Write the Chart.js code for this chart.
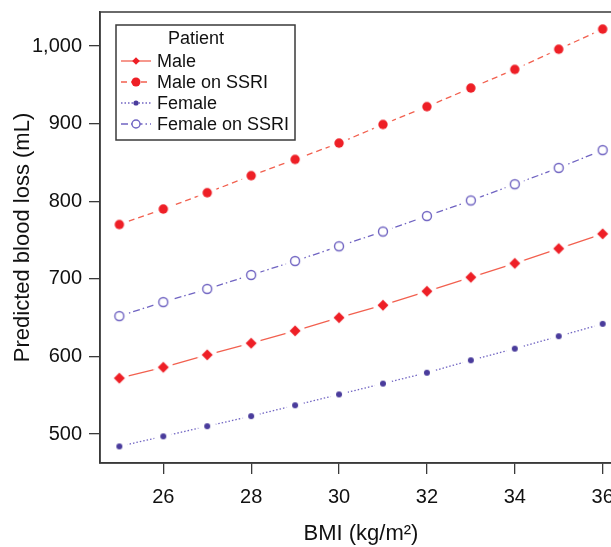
<!DOCTYPE html>
<html>
<head>
<meta charset="utf-8">
<script src="https://cdn.jsdelivr.net/npm/chart.js@4/dist/chart.umd.min.js"></script>
<style>
  html, body { margin: 0; padding: 0; background: #fff; overflow: hidden; }
  #wrap { width: 630px; height: 547px; }
</style>
</head>
<body>
<div id="wrap"><canvas id="bloodLossChart" width="630" height="547"></canvas></div>
<script>
const bmi = [25, 26, 27, 28, 29, 30, 31, 32, 33, 34, 35, 36];
const maleLoss = [572, 586, 602, 617, 633, 650, 666, 684, 702, 720, 739, 758];
const maleSsriLoss = [770, 790, 811, 833, 854, 875, 899, 922, 946, 970, 996, 1022];
const femaleLoss = [484, 497, 510, 523, 537, 551, 565, 579, 595, 610, 626, 642];
const femaleSsriLoss = [652, 670, 687, 705, 723, 742, 761, 781, 801, 822, 843, 866];
const xTicks = [26, 28, 30, 32, 34, 36];
const yTicks = [500, 600, 700, 800, 900, 1000];

const FONT = "'Liberation Sans', Arial, sans-serif";
const AXIS = '#3a3a3a';
const RED_LINE = '#f2604f';
const RED_PT = '#ee1f26';
const BLUE_LINE = '#7064c2';
const BLUE_PT = '#4a3c9c';

// marker shapes, drawn at (cx, cy)
function diamond(g, cx, cy, r, fill) {
    g.fillStyle = fill;
    g.beginPath();
    g.moveTo(cx, cy - r); g.lineTo(cx + r, cy); g.lineTo(cx, cy + r); g.lineTo(cx - r, cy);
    g.closePath();
    g.fill();
}
function dot(g, cx, cy, r, fill) {
    g.fillStyle = fill;
    g.beginPath();
    g.arc(cx, cy, r, 0, Math.PI * 2);
    g.fill();
}
function ring(g, cx, cy, r, stroke) {
    g.fillStyle = '#fff';
    g.strokeStyle = stroke;
    g.lineWidth = 1.4;
    g.beginPath();
    g.arc(cx, cy, r, 0, Math.PI * 2);
    g.fill();
    g.stroke();
}

// point image with a white disk round the marker, so the line breaks
// at every point as in R's type="b"
function markerImage(gap, draw) {
    const c = document.createElement('canvas');
    c.width = c.height = gap * 2;
    const g = c.getContext('2d');
    g.fillStyle = '#fff';
    g.beginPath();
    g.arc(gap, gap, gap, 0, Math.PI * 2);
    g.fill();
    draw(g, gap, gap);
    return c;
}

const maleMarker = markerImage(10, (g, x, y) => diamond(g, x, y, 5.5, RED_PT));
const maleSsriMarker = markerImage(10, (g, x, y) => dot(g, x, y, 4.7, RED_PT));
const femaleMarker = markerImage(9, (g, x, y) => dot(g, x, y, 3, BLUE_PT));
const femaleSsriMarker = markerImage(10, (g, x, y) => ring(g, x, y, 4.5, BLUE_LINE));

const legendMarkers = [
    (g, x, y) => diamond(g, x, y, 3.8, RED_PT),
    (g, x, y) => dot(g, x, y, 4.5, RED_PT),
    (g, x, y) => dot(g, x, y, 2.6, BLUE_PT),
    (g, x, y) => ring(g, x, y, 4, BLUE_LINE)
];

const toPoints = ys => bmi.map((x, i) => ({ x: x, y: ys[i] }));

// box round the plot and the legend inside it
const frameAndLegend = {
    id: 'frameAndLegend',
    afterDraw(chart) {
        const ctx = chart.ctx;
        const a = chart.chartArea;
        ctx.save();
        ctx.strokeStyle = AXIS;
        ctx.lineWidth = 1.5;
        ctx.strokeRect(a.left, a.top, a.right - a.left, a.bottom - a.top);

        ctx.strokeRect(116, 25, 179, 115);
        ctx.fillStyle = '#111';
        ctx.font = '18px ' + FONT;
        ctx.textBaseline = 'middle';
        ctx.textAlign = 'center';
        ctx.fillText('Patient', 196, 39);
        ctx.textAlign = 'left';
        chart.data.datasets.forEach((ds, i) => {
            const y = 61 + i * 21;
            ctx.strokeStyle = ds.borderColor;
            ctx.lineWidth = ds.borderWidth;
            ctx.setLineDash(ds.borderDash || []);
            ctx.beginPath();
            ctx.moveTo(121, y);
            ctx.lineTo(151, y);
            ctx.stroke();
            ctx.setLineDash([]);
            legendMarkers[i](ctx, 136, y);
            ctx.fillStyle = '#111';
            ctx.fillText(ds.label, 157, y + 1);
        });
        ctx.restore();
    }
};

const ctx = document.getElementById('bloodLossChart').getContext('2d');
new Chart(ctx, {
    type: 'line',
    data: {
        datasets: [{
            label: 'Male',
            data: toPoints(maleLoss),
            borderColor: RED_LINE,
            borderWidth: 1.3,
            borderDash: [],
            pointStyle: maleMarker,
            pointRadius: 5
        }, {
            label: 'Male on SSRI',
            data: toPoints(maleSsriLoss),
            borderColor: RED_LINE,
            borderWidth: 1.3,
            borderDash: [6, 4],
            pointStyle: maleSsriMarker,
            pointRadius: 5
        }, {
            label: 'Female',
            data: toPoints(femaleLoss),
            borderColor: BLUE_LINE,
            borderWidth: 1.3,
            borderDash: [1.5, 2],
            pointStyle: femaleMarker,
            pointRadius: 3
        }, {
            label: 'Female on SSRI',
            data: toPoints(femaleSsriLoss),
            borderColor: BLUE_LINE,
            borderWidth: 1.3,
            borderDash: [7, 3, 1.5, 3],
            pointStyle: femaleSsriMarker,
            pointRadius: 5
        }]
    },
    options: {
        responsive: false,
        animation: false,
        layout: { padding: { top: 12, right: 8, left: 0, bottom: 0 } },
        plugins: {
            legend: { display: false },
            tooltip: { enabled: false }
        },
        scales: {
            x: {
                type: 'linear',
                min: 24.56,
                max: 36.44,
                afterBuildTicks: s => { s.ticks = xTicks.map(v => ({ value: v })); },
                afterFit: s => { s.height = 84; },
                grid: { drawOnChartArea: false, tickLength: 11, color: AXIS, lineWidth: 1.3 },
                border: { color: AXIS, width: 1.5 },
                ticks: { font: { family: FONT, size: 20 }, color: '#111', padding: 11, maxRotation: 0 },
                title: {
                    display: true,
                    text: 'BMI (kg/m\u00b2)',
                    font: { family: FONT, size: 22 },
                    color: '#111',
                    padding: { top: 7, bottom: 0 }
                }
            },
            y: {
                min: 462.6,
                max: 1044,
                afterBuildTicks: s => { s.ticks = yTicks.map(v => ({ value: v })); },
                afterFit: s => { s.width = 100; s.paddingTop = 0; s.paddingBottom = 0; },
                grid: { drawOnChartArea: false, tickLength: 11, color: AXIS, lineWidth: 1.3 },
                border: { color: AXIS, width: 1.5 },
                ticks: {
                    font: { family: FONT, size: 20 },
                    color: '#111',
                    padding: 7,
                    callback: v => v.toLocaleString('en-US')
                },
                title: {
                    display: true,
                    text: 'Predicted blood loss (mL)',
                    font: { family: FONT, size: 22 },
                    color: '#111',
                    padding: { top: 10, bottom: 0 }
                }
            }
        }
    },
    plugins: [frameAndLegend]
});
</script>
</body>
</html>
